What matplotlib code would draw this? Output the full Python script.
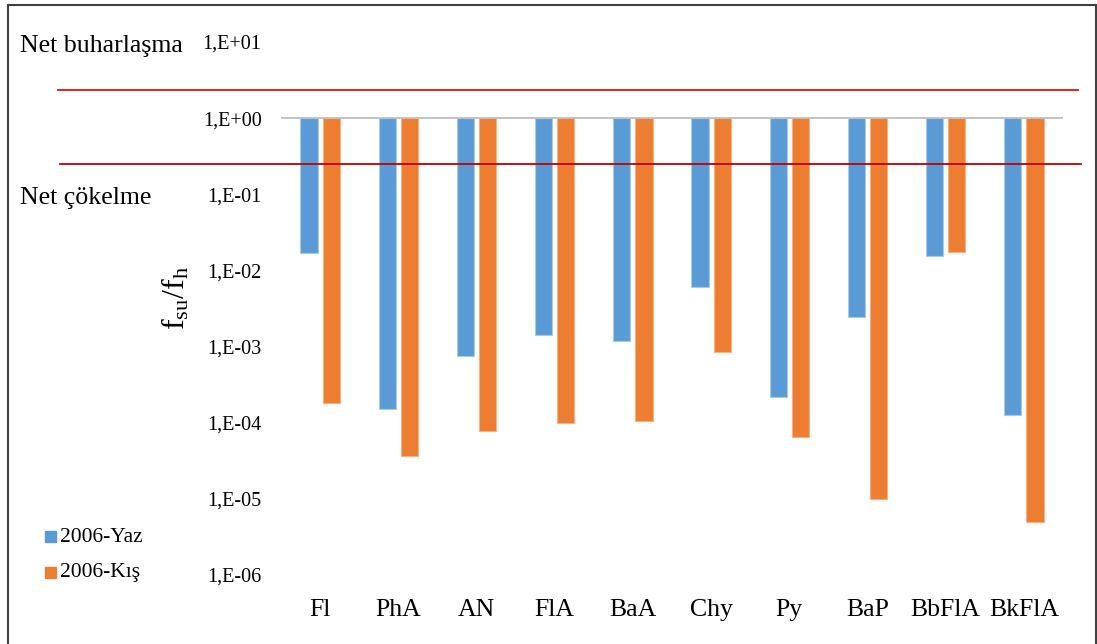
import matplotlib
matplotlib.use("Agg")
import matplotlib.pyplot as plt
import matplotlib.transforms as mtransforms
from matplotlib.patches import Rectangle
from matplotlib.lines import Line2D
import numpy as np

plt.rcParams['font.family'] = ['Liberation Serif', 'DejaVu Serif']
plt.rcParams['mathtext.fontset'] = 'custom'
plt.rcParams['mathtext.rm'] = 'Liberation Serif'
plt.rcParams['mathtext.it'] = 'Liberation Serif'

# PAH compounds and water/air fugacity ratios
compounds = ["Fl", "PhA", "AN", "FlA", "BaA", "Chy", "Py", "BaP", "BbFlA", "BkFlA"]
yaz_2006 = [1.67e-2, 1.53e-4, 7.6e-4, 1.44e-3, 1.2e-3, 6.1e-3, 2.18e-4, 2.45e-3, 1.54e-2, 1.28e-4]
kis_2006 = [1.84e-4, 3.6e-5, 7.7e-5, 9.9e-5, 1.06e-4, 8.5e-4, 6.4e-5, 1.0e-5, 1.72e-2, 4.9e-6]
series_names = ["2006-Yaz", "2006-Kış"]

tick_values = [1e1, 1e0, 1e-1, 1e-2, 1e-3, 1e-4, 1e-5, 1e-6]
tick_labels = ["1,E+01", "1,E+00", "1,E-01", "1,E-02", "1,E-03", "1,E-04", "1,E-05", "1,E-06"]

# equilibrium band limits
upper_limit = 2.33
lower_limit = 0.25

blue = "#5B9BD5"
orange = "#ED7D31"

W, H = 1097, 644
fig = plt.figure(figsize=(W / 100, H / 100), dpi=100)
ax = fig.add_axes([281 / W, 1 - 575 / H, (1063 - 281) / W, (575 - 42) / H])

ax.set_yscale("log")
ax.set_ylim(1e-6, 1e1)
x = np.arange(len(compounds))
bw = 0.22
off = 0.142
base = 1.0
ax.bar(x - off, np.array(yaz_2006) - base, bottom=base, width=bw, color=blue,
       edgecolor="#a9c9ea", linewidth=0.8, label=series_names[0], zorder=2)
ax.bar(x + off, np.array(kis_2006) - base, bottom=base, width=bw, color=orange,
       edgecolor="#f4b183", linewidth=0.8, label=series_names[1], zorder=2)
ax.axhline(base, color="#bfbfbf", lw=1.3, zorder=3)

ax.set_xlim(-0.5, len(compounds) - 0.5)
ax.set_xticks(x)
ax.set_xticklabels(compounds, fontsize=18.5)
ax.set_yticks(tick_values)
ax.set_yticklabels(tick_labels, fontsize=14.5)
ax.yaxis.set_minor_locator(matplotlib.ticker.NullLocator())
ax.tick_params(axis="both", length=0)
ax.tick_params(axis="y", pad=14)
ax.tick_params(axis="x", pad=17)
for s in ax.spines.values():
    s.set_visible(False)

# red limit lines extending across the figure
trans = mtransforms.blended_transform_factory(fig.transFigure, ax.transData)
ax.add_line(Line2D([58 / W, 1078 / W], [upper_limit, upper_limit], transform=trans,
                   color="#e01010", lw=1.3, clip_on=False, zorder=4))
ax.add_line(Line2D([60 / W, 1081 / W], [lower_limit, lower_limit], transform=trans,
                   color="#c00000", lw=1.3, clip_on=False, zorder=4))

fig.text(20 / W, 1 - 46 / H, "Net buharlaşma", fontsize=18.6, va="center", ha="left")
fig.text(20 / W, 1 - 198 / H, "Net çökelme", fontsize=18.6, va="center", ha="left")
fig.text(176 / W, 1 - 298 / H, r"f$_{\mathrm{su}}$/f$_{\mathrm{h}}$", fontsize=23,
         rotation=90, va="center", ha="center")

# legend entries
for name, col, yy in [(series_names[0], blue, 537), (series_names[1], orange, 573)]:
    fig.patches.append(Rectangle((45 / W, 1 - (yy + 5) / H), 11 / W, 11 / H,
                                 transform=fig.transFigure, color=col))
    fig.text(60 / W, 1 - yy / H, name, fontsize=15.5, va="center", ha="left")

# outer frame
fig.patches.append(Rectangle((8 / W, -0.05), (1096 - 8) / W, 1 - 5 / H + 0.05,
                             transform=fig.transFigure, fill=False,
                             edgecolor="#404040", lw=1.5))

fig.savefig("out.png", dpi=100)
